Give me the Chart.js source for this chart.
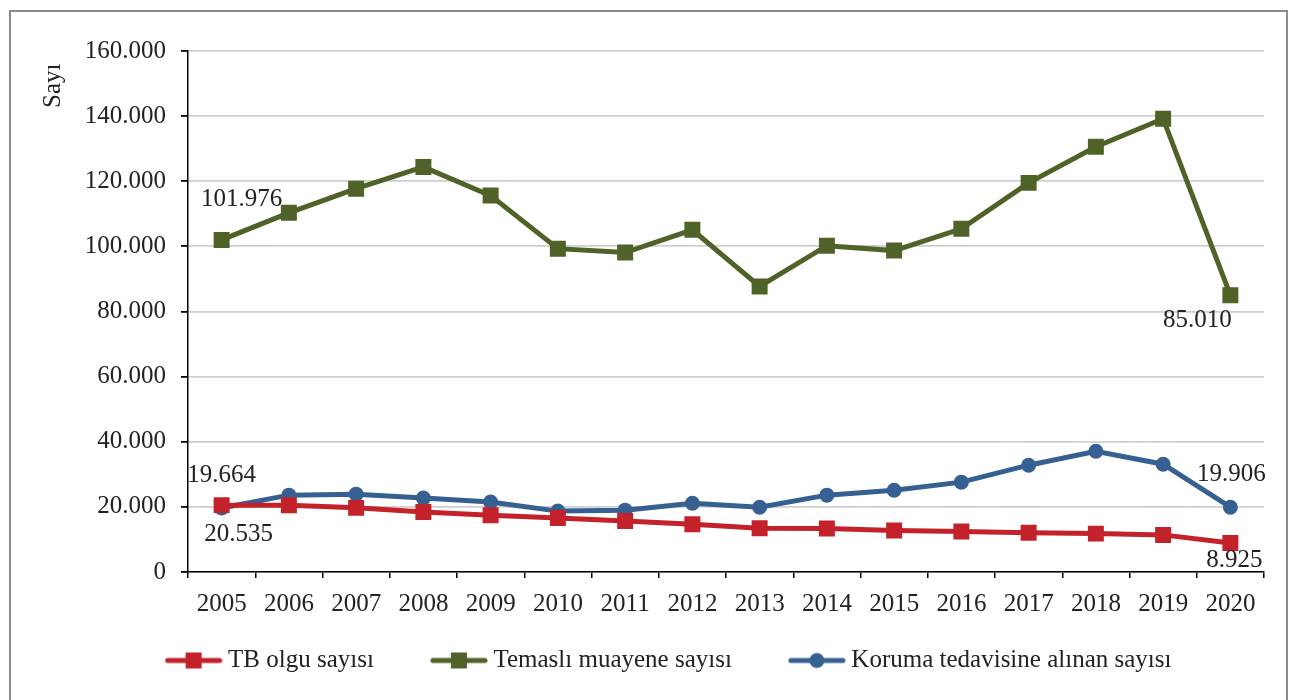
<!DOCTYPE html>
<html>
<head>
<meta charset="utf-8">
<script src="https://cdn.jsdelivr.net/npm/chart.js@4"></script>
<style>
  html, body { margin: 0; padding: 0; background: #fff; }
  #wrap { width: 1290px; height: 700px; }
</style>
</head>
<body>
<div id="wrap"><canvas id="myChart" width="1290" height="700"></canvas></div>
<script>
const years = ['2005','2006','2007','2008','2009','2010','2011','2012','2013','2014','2015','2016','2017','2018','2019','2020'];
const tbOlgu = [20535, 20526, 19694, 18452, 17402, 16551, 15679, 14691, 13409, 13378, 12772, 12417, 12046, 11786, 11398, 8925];
const temasli = [101976, 110300, 117700, 124400, 115600, 99300, 98100, 105100, 87700, 100200, 98700, 105400, 119500, 130600, 139200, 85010];
const koruma = [19664, 23600, 23900, 22700, 21500, 18700, 19000, 21100, 19900, 23600, 25100, 27600, 32800, 37100, 33100, 19906];
const seriesNames = ['TB olgu sayısı', 'Temaslı muayene sayısı', 'Koruma tedavisine alınan sayısı'];
const colors = ['#C3222A', '#4F6228', '#376092'];
const markers = ['rect', 'rect', 'circle'];

const FONT = "'Liberation Serif', 'Times New Roman', serif";
const FS = 25;
const LEG_BOX = 89;   // legend box width (includes gap before the icon)

function fmt(v) {
  return String(v).replace(/\B(?=(\d{3})+(?!\d))/g, '.');
}

// legend icon: line with marker, sitting at the right end of the box
function legendIcon(color, marker) {
  const c = document.createElement('canvas');
  c.width = LEG_BOX + 14; c.height = 20;
  const g = c.getContext('2d');
  const x1 = c.width - 55, x2 = c.width - 3, mid = (x1 + x2) / 2;
  g.strokeStyle = color;
  g.lineWidth = 5;
  g.lineCap = 'round';
  g.beginPath(); g.moveTo(x1, 10); g.lineTo(x2, 10); g.stroke();
  g.fillStyle = color;
  if (marker === 'circle') {
    g.beginPath(); g.arc(mid, 10, 7.5, 0, Math.PI * 2); g.fill();
  } else {
    g.fillRect(mid - 8, 2, 16, 16);
  }
  return c;
}
const icons = colors.map((c, i) => legendIcon(c, markers[i]));

// which points get a value label, offset from the point
const labelSpots = [
  { ds: 1, i: 0, dx: 20, dy: -41 },
  { ds: 1, i: 15, dx: -33, dy: 25 },
  { ds: 2, i: 0, dx: 0, dy: -33 },
  { ds: 0, i: 0, dx: 17, dy: 29 },
  { ds: 2, i: 15, dx: 1, dy: -33 },
  { ds: 0, i: 15, dx: 4, dy: 17 }
];

const framePlugin = {
  id: 'frame',
  beforeDraw(chart) {
    const ctx = chart.ctx;
    ctx.save();
    ctx.fillStyle = '#fff';
    ctx.fillRect(0, 0, chart.width, chart.height);
    ctx.strokeStyle = '#8a8a8a';
    ctx.lineWidth = 2;
    ctx.strokeRect(10, 11, 1277, 720);
    ctx.restore();
  }
};

const valueLabels = {
  id: 'valueLabels',
  afterDatasetsDraw(chart) {
    const ctx = chart.ctx;
    ctx.save();
    ctx.font = FS + 'px ' + FONT;
    ctx.fillStyle = '#222';
    ctx.textAlign = 'center';
    ctx.textBaseline = 'middle';
    labelSpots.forEach(s => {
      const pt = chart.getDatasetMeta(s.ds).data[s.i];
      const v = chart.data.datasets[s.ds].data[s.i];
      ctx.fillText(fmt(v), pt.x + s.dx, pt.y + s.dy);
    });
    ctx.restore();
  }
};

function makeSet(label, data, i) {
  return {
    label: label,
    data: data,
    borderColor: colors[i],
    backgroundColor: colors[i],
    borderWidth: 5,
    tension: 0,
    pointStyle: markers[i],
    pointRadius: markers[i] === 'rect' ? 11.3 : 7.5,
    pointHoverRadius: markers[i] === 'rect' ? 11.3 : 7.5,
    pointBorderWidth: 0
  };
}

Chart.defaults.font.family = FONT;
Chart.defaults.font.size = FS;
Chart.defaults.color = '#222';

const ctx = document.getElementById('myChart');
new Chart(ctx, {
  type: 'line',
  data: {
    labels: years,
    datasets: [
      makeSet(seriesNames[0], tbOlgu, 0),
      makeSet(seriesNames[1], temasli, 1),
      makeSet(seriesNames[2], koruma, 2)
    ]
  },
  options: {
    responsive: false,
    animation: false,
    layout: { padding: { left: 34, right: 26, top: 51, bottom: 17 } },
    plugins: {
      tooltip: { enabled: false },
      legend: {
        position: 'bottom',
        labels: {
          usePointStyle: true,
          pointStyleWidth: LEG_BOX,
          padding: 18,
          font: { size: FS },
          color: '#222',
          generateLabels(chart) {
            const items = Chart.defaults.plugins.legend.labels.generateLabels(chart);
            items.forEach((it, k) => { it.pointStyle = icons[k]; });
            return items;
          }
        }
      }
    },
    scales: {
      x: {
        offset: true,
        grid: { offset: true, drawOnChartArea: false, drawTicks: true, tickLength: 6, color: '#000', lineWidth: 1.5 },
        border: { color: '#000', width: 1.5 },
        ticks: { padding: 11, maxRotation: 0, autoSkip: false, font: { size: FS } }
      },
      y: {
        min: 0,
        max: 160000,
        afterFit(scale) { scale.width = 154; },
        title: { display: true, text: 'Sayı  ', align: 'end', font: { size: FS }, color: '#222' },
        grid: { color: '#cfcfcf', lineWidth: 1.8, tickColor: '#000', tickLength: 7 },
        border: { color: '#000', width: 1.5 },
        ticks: { stepSize: 20000, padding: 15, font: { size: FS }, callback: v => v === 0 ? '0' : fmt(v) }
      }
    }
  },
  plugins: [framePlugin, valueLabels]
});
</script>
</body>
</html>
